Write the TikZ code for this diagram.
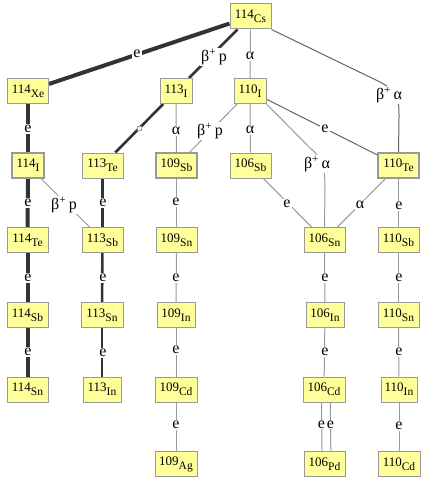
\documentclass[tikz,border=0pt]{standalone}
\usepackage{fontspec}
\setmainfont{Liberation Serif}
\usetikzlibrary{backgrounds,calc}
\definecolor{boxyellow}{HTML}{FFFF99}
\definecolor{boxgray}{HTML}{999999}
\definecolor{darkline}{HTML}{333333}
\definecolor{midline}{HTML}{666666}
\definecolor{thinline}{HTML}{999999}
\newcommand\nucl[2]{#1\raisebox{-4pt}{\fontsize{11.5}{11.5}\selectfont #2}}
\newcommand\bp{β\textsuperscript{+}\,p}
\newcommand\ba{β\textsuperscript{+}\,α}
\tikzset{
  nuc/.style={draw=boxgray, fill=boxyellow, line width=1pt, minimum height=25pt, minimum width=41pt, inner sep=0pt, font=\fontsize{13}{13}\selectfont},
  nucb/.style={nuc, line width=2pt},
  lbl/.style={fill=white, inner sep=1pt, font=\fontsize{16}{16}\selectfont},
  vthick/.style={draw=darkline, line width=4pt},
  thk/.style={draw=darkline, line width=2.6pt},
  thn/.style={draw=thinline, line width=1pt},
  mid/.style={draw=midline, line width=1pt},
}
\begin{document}
\begin{tikzpicture}[x=1pt,y=-1pt]
\useasboundingbox (0,0) rectangle (433,484);
% nodes
\node[nuc] (cs) at (250.5,16.5) {\nucl{114}{Cs}};
\node[nuc] (xe) at (28,91) {\nucl{114}{Xe}};
\node[nuc, minimum width=32pt] (i113) at (176,91) {\nucl{113}{I}};
\node[nuc, minimum width=32pt] (i110) at (250,91) {\nucl{110}{I}};
\node[nucb, minimum width=32pt] (i114) at (28,165.5) {\nucl{114}{I}};
\node[nuc] (te113) at (102.5,165.5) {\nucl{113}{Te}};
\node[nucb] (sb109) at (176.5,165.5) {\nucl{109}{Sb}};
\node[nuc] (sb106) at (250.5,165.5) {\nucl{106}{Sb}};
\node[nucb] (te110) at (398.5,165.5) {\nucl{110}{Te}};
\node[nuc] (te114) at (27.5,240) {\nucl{114}{Te}};
\node[nuc] (sb113) at (102.5,240) {\nucl{113}{Sb}};
\node[nuc] (sn109) at (176.5,240) {\nucl{109}{Sn}};
\node[nuc] (sn106) at (324.5,240) {\nucl{106}{Sn}};
\node[nuc] (sb110) at (398.5,240) {\nucl{110}{Sb}};
\node[nuc] (sb114) at (27.5,315) {\nucl{114}{Sb}};
\node[nuc, minimum width=42pt] (sn113) at (102,315) {\nucl{113}{Sn}};
\node[nuc, minimum width=38pt] (in109) at (176,315) {\nucl{109}{In}};
\node[nuc, minimum width=38pt] (in106) at (325,315) {\nucl{106}{In}};
\node[nuc] (sn110) at (398.5,315) {\nucl{110}{Sn}};
\node[nuc] (sn114) at (27.5,389.5) {\nucl{114}{Sn}};
\node[nuc, minimum width=38pt] (in113) at (102,389.5) {\nucl{113}{In}};
\node[nuc, minimum width=42pt] (cd109) at (176,389.5) {\nucl{109}{Cd}};
\node[nuc, minimum width=42pt] (cd106) at (324,389.5) {\nucl{106}{Cd}};
\node[nuc, minimum width=36pt] (in110) at (399,389.5) {\nucl{110}{In}};
\node[nuc, minimum width=42pt] (ag109) at (176,464) {\nucl{109}{Ag}};
\node[nuc] (pd106) at (324.5,464) {\nucl{106}{Pd}};
\node[nuc, minimum width=42pt] (cd110) at (399,464) {\nucl{110}{Cd}};
% connectors
\begin{scope}[on background layer]
\fill[white] (0,0) rectangle (433,484);
\draw[vthick] (cs) -- (xe);
\draw[thk] (cs) -- (i113);
\draw[thn] (cs) -- (i110);
\draw[mid] (cs.south east) -- (380,82) .. controls (399,92) and (399,100) .. (399,118) -- (te110.north);
\draw[vthick] (xe) -- (i114);
\draw[vthick] (i114) -- (te114);
\draw[vthick] (te114) -- (sb114);
\draw[vthick] (sb114) -- (sn114);
\draw[thn] (i114) -- (sb113);
\draw[thk] (i113) -- (te113);
\draw[thn] (i113) -- (sb109);
\draw[thn] (i110) -- (sb109);
\draw[thn] (i110) -- (sb106);
\draw[thn] (i110.south east) -- (310,148) .. controls (325,160) and (325,175) .. (325,190) -- (sn106.north);
\draw[mid] (i110) -- (te110);
\draw[thk] (te113) -- (sb113);
\draw[thk] (sb113) -- (sn113);
\draw[thk] (sn113) -- (in113);
\draw[thn] (sb109) -- (sn109);
\draw[thn] (sn109) -- (in109);
\draw[thn] (in109) -- (cd109);
\draw[thn] (cd109) -- (ag109);
\draw[thn] (sb106) -- (sn106);
\draw[thn] (te110) -- (sn106);
\draw[thn] (sn106) -- (in106);
\draw[thn] (in106) -- (cd106);
\draw[thn] ([xshift=-2.5pt]cd106.south) -- ([xshift=-2.5pt]pd106.north);
\draw[thn] ([xshift=6.3pt]cd106.south) -- ([xshift=6.3pt]pd106.north);
\draw[thn] (te110) -- (sb110);
\draw[thn] (sb110) -- (sn110);
\draw[thn] (sn110) -- (in110);
\draw[thn] (in110) -- (cd110);
\end{scope}
\node[draw=boxgray, fill=white, line width=0.8pt, minimum size=4.5pt, inner sep=0pt] (sq) at ($(i113)!0.5!(te113)$) {};
% labels
\node[lbl] (l1) at (137,54) {e};
\node[lbl] (l2) at (214,57) {\bp};
\node[lbl] (l3) at (250,56) {α};
\node[lbl] (l4) at (389,95) {\ba};
\node[lbl] (l5) at (28,129) {e};
\node[lbl] (l6) at (176,131) {α};
\node[lbl] (l7) at (210,131) {\bp};
\node[lbl] (l8) at (250,130) {α};
\node[lbl] (l9) at (325,129) {e};
\node[lbl] (l10) at (317,164) {\ba};
\node[lbl] (l11) at (64,205) {\bp};
\node[lbl] (l12) at (28,203) {e};
\node[lbl] (l13) at (103,203) {e};
\node[lbl] (l14) at (176,202) {e};
\node[lbl] (l15) at (287,204) {e};
\node[lbl] (l16) at (360,205) {α};
\node[lbl] (l17) at (399,206) {e};
\node[lbl] (l18) at (28,278) {e};
\node[lbl] (l19) at (103,278) {e};
\node[lbl] (l20) at (176,278) {e};
\node[lbl] (l21) at (325,278) {e};
\node[lbl] (l22) at (399,278) {e};
\node[lbl] (l23) at (28,352) {e};
\node[lbl] (l24) at (103,353) {e};
\node[lbl] (l25) at (176,350) {e};
\node[lbl] (l26) at (325,352) {e};
\node[lbl] (l27) at (399,352) {e};
\node[lbl] (l28) at (176,425) {e};
\node[lbl, inner sep=0.3pt] (l29) at (321.5,425) {e};
\node[lbl, inner sep=0.3pt] (l30) at (330.3,425) {e};
\node[lbl] (l31) at (399,426) {e};
\end{tikzpicture}
\end{document}
